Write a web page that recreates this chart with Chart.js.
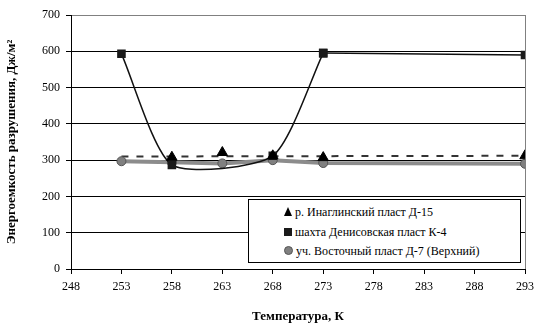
<!DOCTYPE html>
<html>
<head>
<meta charset="utf-8">
<script src="https://cdn.jsdelivr.net/npm/chart.js@4"></script>
<style>
  html, body { margin: 0; padding: 0; background: #fff; }
  #wrap { position: relative; width: 540px; height: 330px; }
  #legend {
    position: absolute; left: 248px; top: 199px; width: 273px; height: 64px;
    border: 1px solid #000; background: #fff; box-sizing: border-box;
    font: 12px "Liberation Serif", "DejaVu Serif", serif; color: #000;
    padding: 3px 0 0 35px;
  }
  .row { height: 19.5px; line-height: 19.5px; white-space: nowrap; }
  .mk { display: inline-block; width: 8px; height: 8px; margin-right: 3px; }
  .tri { width: 0; height: 0; border-left: 4.5px solid transparent; border-right: 4.5px solid transparent; border-bottom: 9px solid #000; }
  .sq { background: #1a1a1a; }
  .ci { background: #808080; border-radius: 50%; border: 1px solid #555; width: 7px; height: 7px; }
</style>
</head>
<body>
<div id="wrap">
  <canvas id="c" width="540" height="330"></canvas>
  <div id="legend"></div>
</div>
<script>
// Temperature, K and fracture energy, J/m2
const X_TICKS = [248, 253, 258, 263, 268, 273, 278, 283, 288, 293];
const Y_TICKS = [0, 100, 200, 300, 400, 500, 600, 700];

const T_INAG  = [258, 263, 268, 273, 293];
const E_INAG  = [308, 321, 312, 307, 312];
const T_TREND = [253, 293];
const E_TREND = [310, 312];

const T_DENIS = [253, 258, 268, 273, 293];
const E_DENIS = [593, 287, 312, 595, 590];

const T_VOST  = [253, 258, 263, 268, 273, 293];
const E_VOST  = [297, 294, 291, 300, 292, 290];

const LABELS = [
  "р. Инаглинский пласт Д-15",
  "шахта Денисовская пласт К-4",
  "уч. Восточный пласт Д-7 (Верхний)",
];

const pts = (xs, ys) => xs.map((x, i) => ({ x, y: ys[i] }));
const FONT = "'Liberation Serif', 'DejaVu Serif', serif";
const denis = pts(T_DENIS, E_DENIS);

new Chart(document.getElementById("c"), {
  type: "scatter",
  data: {
    datasets: [
      { label: "trend", data: pts(T_TREND, E_TREND), showLine: true, borderColor: "#333",
        borderWidth: 2, borderDash: [7, 8], pointRadius: 0, order: 5 },
      { label: LABELS[2], data: pts(T_VOST, E_VOST), showLine: true, borderColor: "#8c8c8c",
        borderWidth: 4, pointStyle: "circle", pointRadius: 4.5, pointBackgroundColor: "#808080",
        pointBorderColor: "#555", pointBorderWidth: 1, order: 4 },
      // smooth part of the K-4 curve, then the straight tail to 293 K
      { label: LABELS[1], data: denis.slice(0, 4), showLine: true, borderColor: "#111",
        borderWidth: 1.5, tension: 0.22, pointStyle: "rect", pointRadius: 5,
        pointBackgroundColor: "#1a1a1a", pointBorderColor: "#1a1a1a", order: 2 },
      { label: "tail", data: denis.slice(3), showLine: true, borderColor: "#111",
        borderWidth: 1.5, pointStyle: "rect", pointRadius: 5,
        pointBackgroundColor: "#1a1a1a", pointBorderColor: "#1a1a1a", order: 3 },
      { label: LABELS[0], data: pts(T_INAG, E_INAG), showLine: false, pointStyle: "triangle",
        pointRadius: 6, pointBackgroundColor: "#000", pointBorderColor: "#000", order: 1 },
    ]
  },
  options: {
    responsive: false, animation: false,
    layout: { padding: { top: 15, right: 15, left: 0, bottom: 0 } },
    plugins: { legend: { display: false }, tooltip: { enabled: false } },
    scales: {
      x: {
        type: "linear", min: 248, max: 293,
        afterBuildTicks: s => { s.ticks = X_TICKS.map(v => ({ value: v })); },
        afterFit: s => { s.height = 61; },
        border: { color: "#000", width: 1 },
        grid: { drawOnChartArea: true, tickLength: 5, tickColor: "#000",
                color: c => c.tick && c.tick.value === 293 ? "#808080" : "rgba(0,0,0,0)" },
        ticks: { color: "#000", font: { family: FONT, size: 12 }, padding: 6, maxRotation: 0 },
        title: { display: true, text: "Температура, К", color: "#000",
                 font: { family: FONT, size: 13, weight: "bold" }, padding: { top: 0, bottom: 6 } }
      },
      y: {
        min: 0, max: 700,
        afterBuildTicks: s => { s.ticks = Y_TICKS.map(v => ({ value: v })); },
        afterFit: s => { s.width = 71; },
        border: { color: "#000", width: 1 },
        grid: { tickLength: 5, tickColor: "#000",
                color: c => c.tick && c.tick.value === 700 ? "#808080" : "#000" },
        ticks: { color: "#000", font: { family: FONT, size: 12 }, padding: 6 },
        title: { display: true, text: "Энергоемкость разрушения, Дж/м²", color: "#000",
                 font: { family: FONT, size: 13, weight: "bold" }, padding: { top: 4, bottom: 0 } }
      }
    }
  }
});

// legend box inside the plot, as in the original
const MARKS = ["tri", "sq", "ci"];
document.getElementById("legend").innerHTML = LABELS
  .map((t, i) => `<div class="row"><span class="mk ${MARKS[i]}"></span>${t}</div>`).join("");
</script>
</body>
</html>
